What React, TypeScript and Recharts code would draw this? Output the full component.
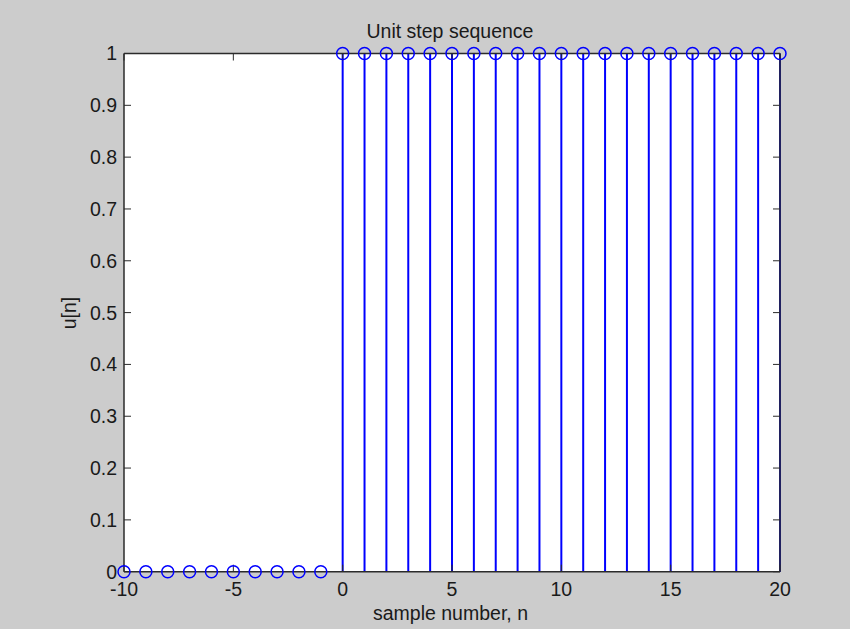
import React from 'react';
import { ComposedChart, Scatter, XAxis, YAxis, ErrorBar } from 'recharts';

const nValues = [-10, -9, -8, -7, -6, -5, -4, -3, -2, -1, 0, 1, 2, 3, 4, 5, 6, 7, 8, 9, 10, 11, 12, 13, 14, 15, 16, 17, 18, 19, 20];
const uValues = [0, 0, 0, 0, 0, 0, 0, 0, 0, 0, 1, 1, 1, 1, 1, 1, 1, 1, 1, 1, 1, 1, 1, 1, 1, 1, 1, 1, 1, 1, 1];
const xTicks = [-10, -5, 0, 5, 10, 15, 20];
const yTicks = [0, 0.1, 0.2, 0.3, 0.4, 0.5, 0.6, 0.7, 0.8, 0.9, 1];
const title = 'Unit step sequence';
const xLabel = 'sample number, n';
const yLabel = 'u[n]';

const data = nValues.map((n, i) => ({ n, u: uValues[i], stem: [uValues[i], 0] }));
const xMin = xTicks[0];
const xMax = xTicks[xTicks.length - 1];
const yMin = yTicks[0];
const yMax = yTicks[yTicks.length - 1];
const leftTickPts = yTicks.map((v) => ({ n: xMin, u: v }));
const rightTickPts = yTicks.map((v) => ({ n: xMax, u: v }));
const bottomTickPts = xTicks.map((v) => ({ n: v, u: yMin }));
const topTickPts = xTicks.map((v) => ({ n: v, u: yMax }));

const FONT = '"Liberation Sans", Arial, Helvetica, sans-serif';
const AXIS = '#2b2b2b';
const TEXT = '#1a1a1a';
const BLUE = '#0000ff';
const FS = 19.5;
const TL = 7;
const tickStyle = { fill: TEXT, fontSize: FS, fontFamily: FONT };

const Marker = (p: any) => (
  <circle cx={p.cx} cy={p.cy} r={6} fill="none" stroke={BLUE} strokeWidth={1.5} />
);
const mkTick = (dx: number, dy: number) => (p: any) => (
  <line x1={p.cx} y1={p.cy} x2={p.cx + dx} y2={p.cy + dy} stroke={AXIS} strokeWidth={1} />
);
const LeftTickShape = mkTick(TL, 0);
const RightTickShape = mkTick(-TL, 0);
const BottomTickShape = mkTick(0, -TL);
const TopTickShape = mkTick(0, TL);

export default function App() {
  return (
    <div style={{ position: 'absolute', left: 0, top: 0, width: 850, height: 629, background: '#cccccc' }}>
      <div style={{ position: 'absolute', left: 124, top: 53.5, width: 656, height: 518.2, background: '#ffffff' }} />
      <ComposedChart
        width={850}
        height={629}
        data={data}
        margin={{ top: 52.5, left: 123, right: 69, bottom: 56.3 }}
        style={{ position: 'absolute', left: 0, top: 0 }}
      >
        <XAxis
          xAxisId="b"
          dataKey="n"
          type="number"
          domain={[xMin, xMax]}
          ticks={xTicks}
          orientation="bottom"
          height={1}
          tickSize={0}
          tickMargin={10}
          axisLine={{ stroke: AXIS, strokeWidth: 1.5 }}
          tickLine={false}
          tick={tickStyle}
          interval={0}
        />
        <XAxis
          xAxisId="t"
          type="number"
          domain={[xMin, xMax]}
          ticks={xTicks}
          orientation="top"
          height={1}
          tickSize={0}
          axisLine={{ stroke: AXIS, strokeWidth: 1.5 }}
          tickLine={false}
          tick={false}
          interval={0}
        />
        <YAxis
          yAxisId="l"
          type="number"
          domain={[yMin, yMax]}
          ticks={yTicks}
          orientation="left"
          width={1}
          tickSize={0}
          tickMargin={7}
          axisLine={{ stroke: AXIS, strokeWidth: 1.5 }}
          tickLine={false}
          tick={tickStyle}
          interval={0}
        />
        <YAxis
          yAxisId="r"
          type="number"
          domain={[yMin, yMax]}
          ticks={yTicks}
          orientation="right"
          width={1}
          tickSize={0}
          axisLine={{ stroke: AXIS, strokeWidth: 1.5 }}
          tickLine={false}
          tick={false}
          interval={0}
        />
        <Scatter xAxisId="b" yAxisId="l" data={leftTickPts} dataKey="u" isAnimationActive={false} shape={LeftTickShape} />
        <Scatter xAxisId="b" yAxisId="l" data={rightTickPts} dataKey="u" isAnimationActive={false} shape={RightTickShape} />
        <Scatter xAxisId="b" yAxisId="l" data={bottomTickPts} dataKey="u" isAnimationActive={false} shape={BottomTickShape} />
        <Scatter xAxisId="b" yAxisId="l" data={topTickPts} dataKey="u" isAnimationActive={false} shape={TopTickShape} />
        <Scatter
          xAxisId="b"
          yAxisId="l"
          dataKey="u"
          isAnimationActive={false}
          shape={Marker}
        >
          <ErrorBar dataKey="stem" direction="y" width={0} stroke={BLUE} strokeWidth={2} isAnimationActive={false} />
        </Scatter>
      </ComposedChart>
      <svg width={850} height={629} style={{ position: 'absolute', left: 0, top: 0, pointerEvents: 'none' }}>
        <text x={450} y={38} textAnchor="middle" fontFamily={FONT} fontSize={FS} fill={TEXT}>{title}</text>
        <text x={450.5} y={620} textAnchor="middle" fontFamily={FONT} fontSize={FS} fill={TEXT}>{xLabel}</text>
        <text x={76} y={313} textAnchor="middle" fontFamily={FONT} fontSize={FS} fill={TEXT} transform="rotate(-90, 76, 313)">{yLabel}</text>
      </svg>
    </div>
  );
}
